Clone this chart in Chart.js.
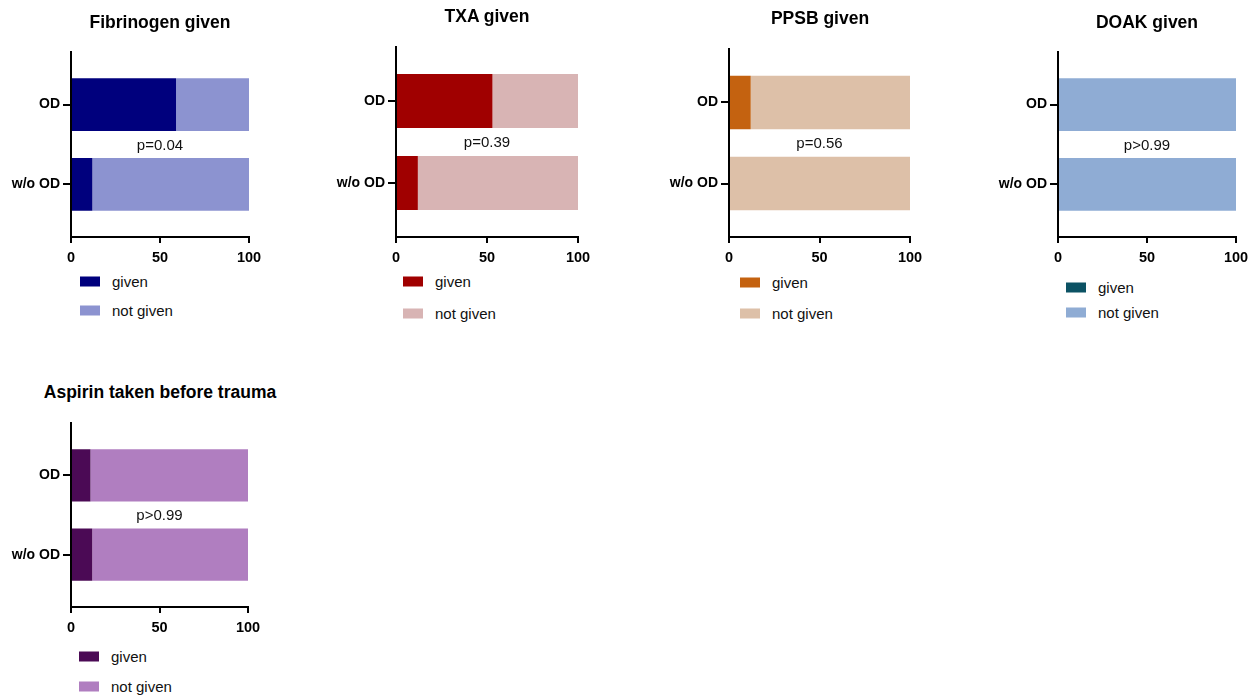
<!DOCTYPE html>
<html><head><meta charset="utf-8">
<script src="https://cdn.jsdelivr.net/npm/chart.js@4.4.1/dist/chart.umd.min.js"></script>
<style>
body{margin:0;background:#fff;width:1253px;height:695px;position:relative;overflow:hidden;font-family:"Liberation Sans",Arial,sans-serif;}
canvas{position:absolute;}
.title{position:absolute;font-weight:bold;font-size:17.5px;color:#000;white-space:nowrap;transform:translate(-50%,-50%);}
.leg{position:absolute;display:flex;align-items:center;font-size:15px;color:#111;white-space:nowrap;transform:translateY(-50%);}
.leg .box{display:inline-block;width:20px;height:10px;margin-right:12px;}
</style></head><body>
<script>
// ---- data ----
const categories = ['OD', 'w/o OD'];
const xTicks = [0, 50, 100];
const seriesLabels = ['given', 'not given'];

const titles = ['Fibrinogen given', 'TXA given', 'PPSB given', 'DOAK given', 'Aspirin taken before trauma'];
const pValues = ['p=0.04', 'p=0.39', 'p=0.56', 'p>0.99', 'p>0.99'];

const fibrinogenGiven = [59, 12];
const fibrinogenNotGiven = [41, 88];
const txaGiven = [53, 12];
const txaNotGiven = [47, 88];
const ppsbGiven = [12, 0];
const ppsbNotGiven = [88, 100];
const doakGiven = [0, 0];
const doakNotGiven = [100, 100];
const aspirinGiven = [11, 12];
const aspirinNotGiven = [89, 88];

// ---- styles / layout ----
const FONT = '"Liberation Sans", Arial, sans-serif';
const colors = [
  ['#00007d', '#8c93d0'],
  ['#a00000', '#d8b4b4'],
  ['#c46210', '#ddc0a8'],
  ['#0c5264', '#8facd4'],
  ['#4b0a55', '#b07ec0']
];
const series = [
  [fibrinogenGiven, fibrinogenNotGiven],
  [txaGiven, txaNotGiven],
  [ppsbGiven, ppsbNotGiven],
  [doakGiven, doakNotGiven],
  [aspirinGiven, aspirinNotGiven]
];
const geo = [
  {L:71, R:249, T:52, B:237, tx:160, ty:22, lx:80, ly1:281, ly2:310},
  {L:396, R:578, T:47, B:237, tx:487, ty:16, lx:403, ly1:281, ly2:313},
  {L:729, R:910, T:49, B:237, tx:820, ty:18, lx:740, ly1:282, ly2:313},
  {L:1058, R:1236, T:52, B:237, tx:1147, ty:22, lx:1066, ly1:287, ly2:312},
  {L:71, R:248, T:423, B:607, tx:160, ty:392, lx:79, ly1:656, ly2:686}
];
const YW = 70, PADT = 20, PADR = 30, XH = 34;

const pPlugin = {
  id: 'pval',
  afterDatasetsDraw(chart, args, opts) {
    const {ctx, chartArea, scales} = chart;
    ctx.save();
    ctx.font = '15px ' + FONT;
    ctx.fillStyle = '#111';
    ctx.textAlign = 'center';
    ctx.textBaseline = 'middle';
    ctx.fillText(opts.text, (chartArea.left + chartArea.right) / 2, scales.y.getPixelForValue(0.5) + 1);
    ctx.restore();
  }
};

geo.forEach((g, k) => {
  const cv = document.createElement('canvas');
  const w = YW + (g.R - g.L) + PADR;
  const h = PADT + (g.B - g.T) + XH;
  cv.width = w; cv.height = h;
  cv.style.width = w + 'px'; cv.style.height = h + 'px';
  cv.style.left = (g.L - YW) + 'px';
  cv.style.top = (g.T - PADT) + 'px';
  document.body.appendChild(cv);

  const t = document.createElement('div');
  t.className = 'title';
  t.textContent = titles[k];
  t.style.left = g.tx + 'px'; t.style.top = g.ty + 'px';
  document.body.appendChild(t);

  [g.ly1, g.ly2].forEach((ly, j) => {
    const d = document.createElement('div');
    d.className = 'leg';
    d.style.left = g.lx + 'px'; d.style.top = ly + 'px';
    const b = document.createElement('span');
    b.className = 'box';
    b.style.background = colors[k][j];
    d.appendChild(b);
    d.appendChild(document.createTextNode(seriesLabels[j]));
    document.body.appendChild(d);
  });

  new Chart(cv, {
    type: 'bar',
    data: {
      datasets: series[k].map((vals, j) => ({
        label: seriesLabels[j],
        data: vals.map((v, i) => ({x: v, y: i})),
        backgroundColor: colors[k][j],
        borderWidth: 0,
        barPercentage: 0.66,
        categoryPercentage: 1
      }))
    },
    options: {
      indexAxis: 'y',
      responsive: false,
      animation: false,
      layout: {padding: {left: 0, top: PADT, right: PADR, bottom: 0}},
      plugins: {legend: {display: false}, tooltip: {enabled: false}, pval: {text: pValues[k]}},
      scales: {
        x: {
          type: 'linear', min: 0, max: 100, stacked: true, offset: false,
          afterBuildTicks: s => { s.ticks = xTicks.map(v => ({value: v})); },
          afterFit: s => { s.height = XH; },
          ticks: {font: {family: FONT, size: 14.5, weight: 'bold'}, color: '#000', padding: 6},
          grid: {offset: false, drawOnChartArea: false, tickLength: 6, color: '#000', lineWidth: 2},
          border: {display: true, color: '#000', width: 2}
        },
        y: {
          type: 'linear', reverse: true, min: -0.66, max: 1.66, stacked: true, offset: false,
          afterBuildTicks: s => { s.ticks = categories.map((c, i) => ({value: i})); },
          afterFit: s => { s.width = YW; },
          ticks: {callback: v => categories[v], font: {family: FONT, size: 14, weight: 'bold'}, color: '#000', padding: 3},
          grid: {offset: false, drawOnChartArea: false, tickLength: 8, color: '#000', lineWidth: 2},
          border: {display: true, color: '#000', width: 2}
        }
      }
    },
    plugins: [pPlugin]
  });
});
</script>
</body></html>
